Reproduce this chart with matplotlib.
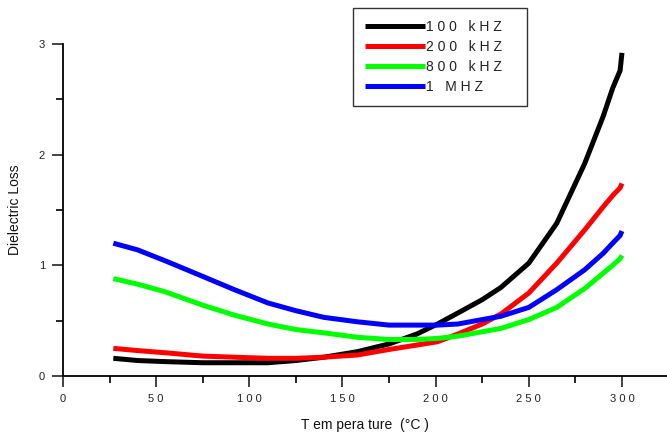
import matplotlib
matplotlib.use("Agg")
import matplotlib.pyplot as plt
from matplotlib.ticker import MultipleLocator

plt.rcParams["font.family"] = ["Liberation Sans", "DejaVu Sans"]

# Temperature (°C) and dielectric loss for each frequency
temp = [27, 40, 55, 75, 92, 110, 125, 140, 158, 175, 190, 201, 212, 225, 235,
        250, 265, 280, 290, 295, 299, 300]
loss_100k = [0.16, 0.14, 0.13, 0.12, 0.12, 0.12, 0.14, 0.17, 0.22, 0.29, 0.38,
             0.47, 0.57, 0.69, 0.80, 1.02, 1.38, 1.92, 2.35, 2.60, 2.76, 2.92]
loss_200k = [0.25, 0.23, 0.21, 0.18, 0.17, 0.16, 0.16, 0.17, 0.19, 0.24, 0.28,
             0.31, 0.38, 0.47, 0.56, 0.75, 1.02, 1.32, 1.53, 1.63, 1.70, 1.74]
loss_800k = [0.88, 0.83, 0.76, 0.64, 0.55, 0.47, 0.42, 0.39, 0.35, 0.33, 0.33,
             0.34, 0.36, 0.40, 0.43, 0.51, 0.62, 0.79, 0.93, 1.00, 1.06, 1.09]
loss_1M = [1.20, 1.14, 1.04, 0.90, 0.78, 0.66, 0.59, 0.53, 0.49, 0.46, 0.46,
           0.46, 0.47, 0.51, 0.54, 0.62, 0.78, 0.96, 1.11, 1.20, 1.27, 1.31]

series = [
    ("1 0 0   k H Z   ", loss_100k, "black"),
    ("2 0 0   k H Z   ", loss_200k, "#ff0000"),
    ("8 0 0   k H Z   ", loss_800k, "#00ff00"),
    ("1   M H Z", loss_1M, "#0000ff"),
]

xticks = [0, 50, 100, 150, 200, 250, 300]
yticks = [0, 1, 2, 3]

fig = plt.figure(figsize=(6.67, 4.34), dpi=100)
ax = fig.add_axes([0.0945, 0.1336, 0.905, 0.765])

for label, vals, color in series:
    ax.plot(temp, vals, color=color, lw=3.6, label=label, solid_capstyle="butt")

ax.set_xlim(0, 324)
ax.set_ylim(0, 3)
ax.set_xticks(xticks)
ax.set_xticklabels([" ".join(str(v)) for v in xticks])
ax.set_yticks(yticks)
ax.xaxis.set_minor_locator(MultipleLocator(25))
ax.yaxis.set_minor_locator(MultipleLocator(0.5))
ax.tick_params(which="major", length=8, width=1.2, labelsize=8, colors="#222222", pad=5)
ax.tick_params(which="minor", length=5, width=1.2)
for s in ("top", "right"):
    ax.spines[s].set_visible(False)
for s in ("left", "bottom"):
    ax.spines[s].set_linewidth(1.3)

ax.set_xlabel("T em pera ture  (°C )", fontsize=10, color="#111111", labelpad=10)
ax.set_ylabel("Dielectric Loss", fontsize=10, color="#111111", labelpad=12)

leg = ax.legend(loc="upper left", bbox_to_anchor=(0.529, 0.982),
                bbox_transform=fig.transFigure, fontsize=10, frameon=True,
                fancybox=False, handlelength=4.3, handletextpad=0.1,
                labelspacing=0.42, borderpad=0.9, borderaxespad=0)
leg.get_frame().set_edgecolor("black")
leg.get_frame().set_linewidth(1.0)
for t in leg.get_texts():
    t.set_color("#222222")

fig.savefig("out.png", dpi=100)
